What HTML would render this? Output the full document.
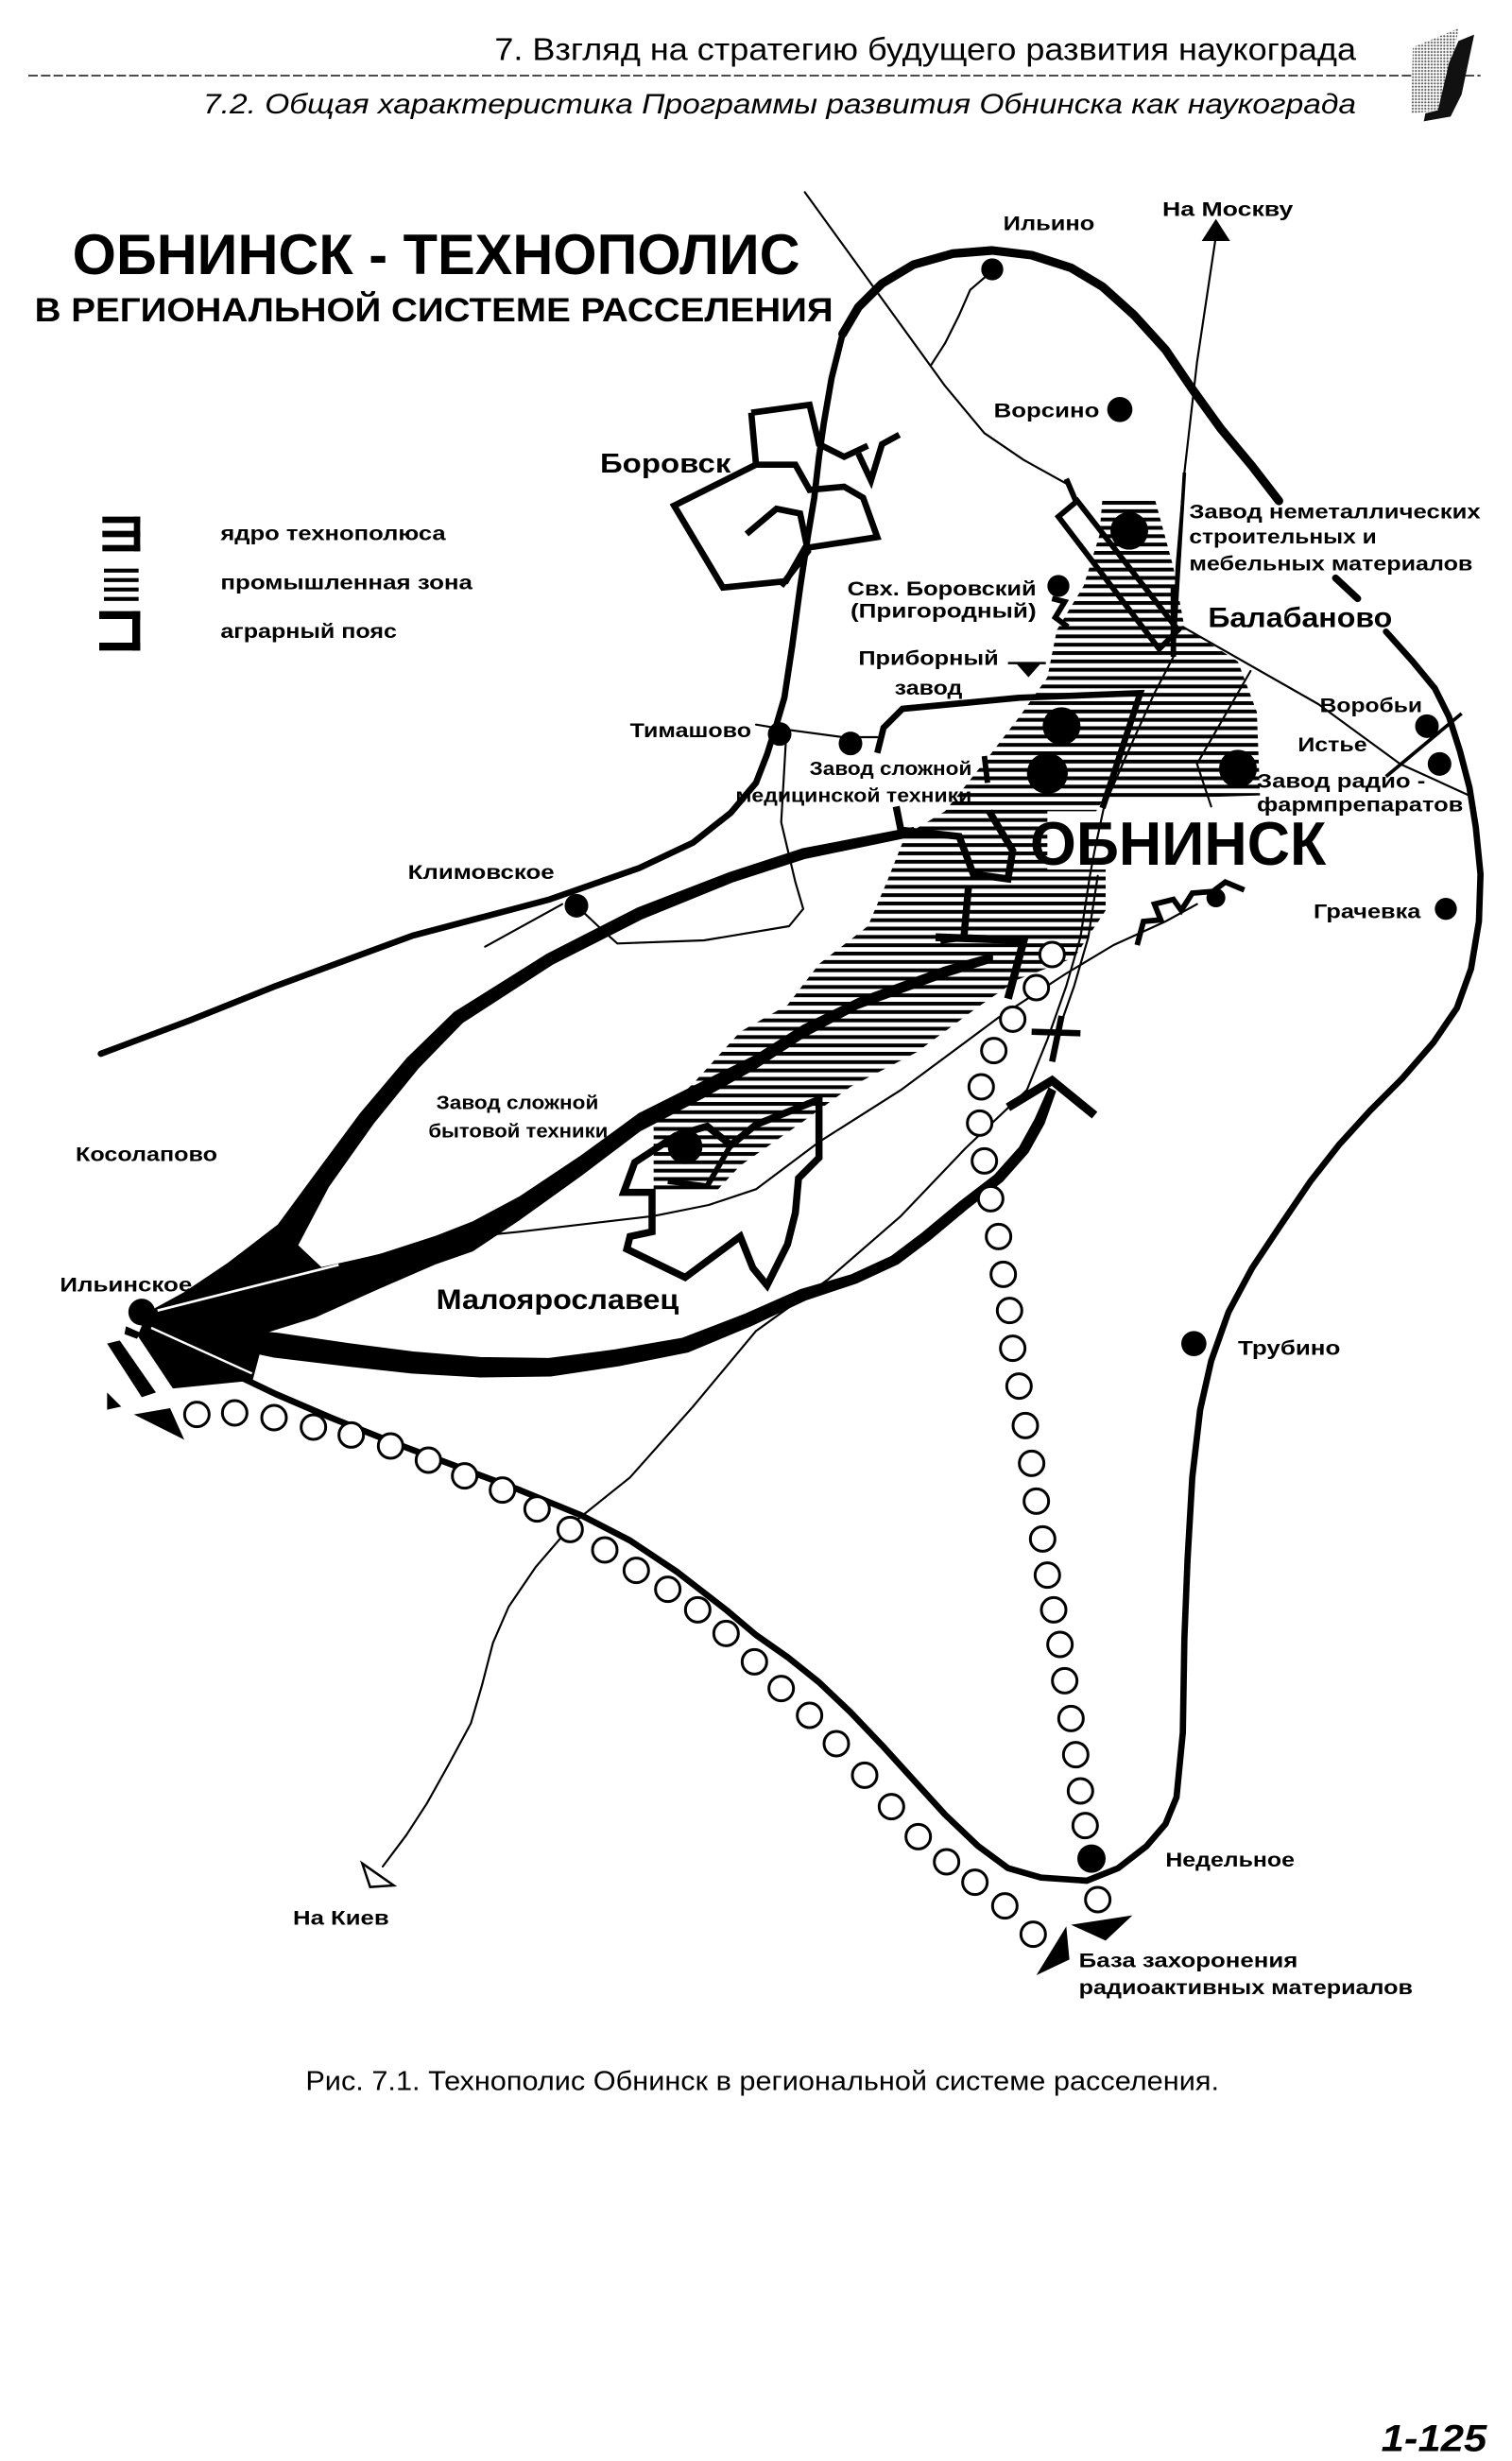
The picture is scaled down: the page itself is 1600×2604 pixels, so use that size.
<!DOCTYPE html>
<html><head><meta charset="utf-8"><style>
html,body{margin:0;padding:0;background:#fff;}
svg{display:block;}
text{font-family:"Liberation Sans","DejaVu Sans",sans-serif;}
.b{font-weight:bold;}
</style></head><body>
<svg xmlns="http://www.w3.org/2000/svg" width="1600" height="2604" viewBox="0 0 960 1562.4">
<defs>
<pattern id="hp" width="20" height="5.3" patternUnits="userSpaceOnUse"><rect x="0" y="0" width="20" height="2.4" fill="#000"/></pattern>
<pattern id="dots" width="2" height="2" patternUnits="userSpaceOnUse"><rect width="2" height="2" fill="#fff"/><circle cx="1" cy="1" r="0.65" fill="#555"/></pattern>
</defs>
<rect x="0" y="0" width="960" height="1562.4" fill="#fff"/>

<!-- HEADER -->
<text x="314" y="38" font-size="20" textLength="547" lengthAdjust="spacingAndGlyphs">7.  Взгляд на стратегию будущего развития наукограда</text>
<line x1="18" y1="48" x2="940" y2="48" stroke="#333" stroke-width="1" stroke-dasharray="6 2"/>
<text x="129" y="72" font-size="18" font-style="italic" textLength="732" lengthAdjust="spacingAndGlyphs">7.2. Общая характеристика Программы развития Обнинска как наукограда</text>
<polygon points="897,30 926,18 923,35 916,70 896,72" fill="url(#dots)"/>
<polygon points="926,26 936,22 928,60 921,74 904,77 905,72 913,70 920,40" fill="#111"/>

<!-- TITLE -->
<text class="b" x="46" y="174" font-size="36" textLength="462" lengthAdjust="spacingAndGlyphs">ОБНИНСК - ТЕХНОПОЛИС</text>
<text class="b" x="22" y="204" font-size="21" textLength="507" lengthAdjust="spacingAndGlyphs">В РЕГИОНАЛЬНОЙ СИСТЕМЕ РАССЕЛЕНИЯ</text>

<!-- LEGEND -->
<g fill="#000">
<rect x="65" y="328" width="24" height="4"/><rect x="65" y="337" width="24" height="4"/><rect x="65" y="346" width="24" height="4"/><rect x="85" y="328" width="4" height="22"/>
<rect x="66" y="361" width="22" height="2.5"/><rect x="66" y="367" width="22" height="2.5"/><rect x="66" y="373" width="22" height="2.5"/><rect x="66" y="379" width="22" height="2.5"/>
<rect x="63" y="388" width="26" height="5"/><rect x="63" y="408" width="26" height="5"/><rect x="84" y="388" width="5" height="25"/>
</g>
<g font-size="12.5">
<text class="b" x="140" y="343" textLength="143" lengthAdjust="spacingAndGlyphs">ядро технополюса</text>
<text class="b" x="140" y="374" textLength="160" lengthAdjust="spacingAndGlyphs">промышленная зона</text>
<text class="b" x="140" y="405" textLength="112" lengthAdjust="spacingAndGlyphs">аграрный пояс</text>
</g>

<!-- HATCH -->
<path d="M700,316 L733,316 L745,360 L752,398 L786,420 L798,452 L800,505 L700,508 L696,515 L665,515 L665,552 L702,552 L702,578 L682,608 L646,622 L620,640 L582,668 L540,690 L510,712 L470,740 L455,756 L415,756 L415,712 L440,688 L470,655 L500,638 L520,612 L551,588 L563,560 L575,530 L600,515 L628,480 L648,454 L665,430 L671,400 L688,372 L698,340 Z" fill="url(#hp)"/>

<!-- THIN LINES -->
<g fill="none" stroke="#000" stroke-width="1.3" stroke-linejoin="round" stroke-linecap="round">
<path d="M511,122 L600,245 L625,275 L650,292 L677,307"/>
<path d="M630,172 L616,184 L609,200 L600,218 L591,232"/>
<path d="M772,150 L760,230 L752,300 L747,360 L745,417 L733,440 L715,480 L701,512 L695,540 L692,556 L686,595 L677,626 L665,660 L652,692 L613,729 L572,772 L526,812 L480,845 L440,893 L400,938 L365,966 L340,995 L323,1020 L313,1043 L306,1070 L299,1094 L285,1120 L271,1145 L258,1165 L243,1185"/>
<path d="M697,556 L691,595 L682,626 L670,660"/>
<path d="M215,803 L240,797 L277,788 L300,785 L330,782 L415,772 L450,765 L480,755 L520,725 L572,692 L634,646 L677,618 L707,600 L740,585 L760,574"/>
<path d="M751,398 L837,447 L889,485 L935,506"/>
<path d="M794,426 L760,485 L769,512"/>
<path d="M480,460 L498,463 L535,468 L557,468"/>
<path d="M499,470 L496,522 L505,560 L510,577 L501,588 L447,597 L392,599 L383,591 L366,575"/>
<path d="M357,574 L308,601"/>
</g>
<path d="M880,493 L928,453" stroke="#000" stroke-width="2.2" fill="none"/>
<path d="M752,300 L745,417" stroke="#000" stroke-width="2.2" fill="none"/>
<!-- arrows -->
<polygon points="772,139 763,153 781,153" fill="#000"/>
<polygon points="230,1183 250,1197 235,1198" fill="#fff" stroke="#000" stroke-width="1.5"/>

<!-- OUTER LOOP -->
<g fill="none" stroke="#000" stroke-linejoin="round" stroke-linecap="round">
<path stroke-width="4" d="M64,669 L120,648 L175,626 L262,594 L349,571 L406,551 L440,535 L464,516 L480,497 L487,479 L493,460 L498,443 L503,410 L508,373 L513,340 L517,316 L520,290 L523,269 L528,240 L535,212"/>
<path stroke-width="5.5" d="M535,212 L545,195 L560,180 L580,168 L605,161 L630,159 L655,162 L680,170 L700,182 L720,200 L740,222 L757,247 L775,272 L795,296 L812,318"/>
<path stroke-width="4.5" d="M848,367 L862,380"/>
<path stroke-width="4" d="M880,401 L897,420 L911,437 L920,455 L927,477 L933,500 L937,525 L940,555 L939,585 L934,615 L925,640 L910,662 L890,685 L870,705 L850,727 L832,750 L813,778 L795,805 L780,833 L769,864 L762,895 L757,938 L754,990 L752,1040 L751,1100 L747,1141 L740,1158 L728,1172 L710,1186 L690,1194 L661,1192 L640,1186 L621,1172 L600,1152 L580,1130 L560,1108 L540,1087 L520,1068 L500,1052 L480,1038 L461,1022 L430,998 L400,978 L369,962 L330,946 L290,931 L250,916 L210,900 L175,885 L150,873 L120,858 L92,843"/>
</g>

<!-- BOROVSK -->
<g fill="none" stroke="#000" stroke-width="4" stroke-linejoin="miter">
<path d="M477,262 L514,257 L520,282 L536,290 L551,283"/>
<path d="M545,288 L553,305 L560,282 L571,276"/>
<path d="M477,262 L480,295 L428,321 L459,373 L499,369 L511,348 L557,341 L548,316 L536,309 L514,311 L505,295 L480,295"/>
<path d="M474,339 L493,323 L508,326 L513,350 L496,372"/>
</g>

<!-- BALABANOVO / OBNINSK thick structures -->
<g fill="none" stroke="#000" stroke-width="3.5" stroke-linejoin="miter">
<path d="M677,304 L683,318"/>
<path d="M672,328 L684,318 L748,400 L736,412 Z"/>
<path d="M745,372 L745,417"/>
<path d="M668,380 L676,382 L670,392 L678,398"/>
<path stroke-width="4" d="M557,478 L561,462 L573,450 L647,443 L724,440 L700,513"/>
<path d="M625,480 L627,497"/>
<path stroke-width="4.5" d="M569,512 L572,527 L609,531 L618,555 L640,558 L643,540 L628,515"/>
<path stroke-width="4.5" d="M615,562 L612,595 L597,597"/>
<path stroke-width="5" d="M594,595 L650,597 L640,634"/>
<path stroke-width="4" d="M655,655 L686,656 M674,645 L668,674"/>
<path stroke-width="5.5" d="M640,703 L668,686 L695,708"/>
<path stroke-width="3.5" d="M722,600 L726,585 L737,584 L733,574 L745,571 L750,578 L757,567 L770,566 L778,560 L790,565"/>
<path stroke-width="4.5" d="M403,738 L429,721 L449,715 L464,727 L480,714 L520,698 L520,735 L507,748 L505,770 L500,790 L487,816 L478,805 L470,785 L435,811 L398,793 L400,785 L414,782 L414,757 L396,757 Z"/>
<path stroke-width="3.5" d="M424,750 L449,753 L464,727"/>
</g>
<!-- Priborny marker -->
<path d="M640,421 L664,421" stroke="#000" stroke-width="1.5"/>
<polygon points="645,421 661,421 653,430" fill="#000"/>

<!-- FAN CURVES -->
<g fill="#000" stroke="#000" stroke-width="1" stroke-linejoin="round">
<!-- upper fan -->
<polygon points="94.5,833.2 117.3,820.7 145,802.1 176.7,777.8 199.6,746.7 229.1,706.9 258.7,671.9 288.5,642.9 347.3,606 404.5,576.8 463,554.2 509.2,539.1 579.8,525.5 580.3,530.5 510.8,544.9 465,559.8 407.5,583.2 350.7,612 293.5,649.1 265.3,678.1 236.9,713.1 208.4,753.3 188,792 150,812 120,828 95.5,834.8"/>
<polygon points="95,834 188,790 205,806"/>
<!-- middle band (wedge then curve to Obninsk) -->
<polygon points="100,833 190,808 240,797 277,785 300,776 330,760 369,734 406,707 446,687 480,670 510,651 545,634 600,614 630,605.5 630,610.5 600,620 545,640 510,658.5 480,678 446,697 406,718 369,746 330,774 300,794 277,802 240,818 200,836 168,846 160,876 110,881 88,848 92,838"/>
<!-- bottom band -->
<polygon points="95.2,840 135.8,843 176,846.6 220.7,853.1 262.4,858.5 305,862 348.5,862.6 391.1,857.1 433.3,849.8 473.3,834.4 508.6,818.8 540.2,809.6 566,797.8 585.9,782.8 609.8,762.9 631.6,746.2 647.4,728.5 657.2,710.8 666,691 670,693 662.8,713.2 652.6,731.5 636.4,749.8 614.2,767.1 590.1,787.2 570,802.3 543.8,814.4 511.4,825.2 476.7,841.6 436.7,858.2 392.9,866.9 349.6,873.4 305,874 261.6,871.5 219.3,866.9 174,861.4 134.3,853 94.8,844"/>
</g>
<path d="M100,832 L215,803" stroke="#fff" stroke-width="1.6" fill="none"/>
<path d="M96,843 L160,872" stroke="#fff" stroke-width="1.4" fill="none"/>

<!-- Ilinskoe marks -->
<g fill="#000">
<polygon points="80,842 89,846 87,850 79,847"/>
<polygon points="68,853 76,851 99,884 90,887"/>
<polygon points="68,884 77,893 68,895"/>
<polygon points="85,898 108,894 117,914"/>
<polygon points="658,1254 677,1223 679,1244"/>
<polygon points="680,1222 719,1216 702,1232"/>
</g>

<!-- CIRCLES -->
<g fill="#fff" stroke="#000" stroke-width="1.8">
<circle cx="125" cy="898" r="7.8"/><circle cx="149" cy="897" r="7.8"/><circle cx="174" cy="900" r="7.8"/><circle cx="199" cy="906" r="7.8"/><circle cx="223" cy="911" r="7.8"/><circle cx="248" cy="918" r="7.8"/><circle cx="272" cy="927" r="7.8"/><circle cx="295" cy="937" r="7.8"/><circle cx="319" cy="946" r="7.8"/><circle cx="341" cy="958" r="7.8"/><circle cx="362" cy="971" r="7.8"/><circle cx="384" cy="984" r="7.8"/><circle cx="404" cy="997" r="7.8"/><circle cx="424" cy="1009" r="7.8"/><circle cx="443" cy="1022" r="7.8"/><circle cx="461" cy="1037" r="7.8"/><circle cx="479" cy="1055" r="7.8"/><circle cx="496" cy="1072" r="7.8"/><circle cx="514" cy="1089" r="7.8"/><circle cx="531" cy="1107" r="7.8"/><circle cx="549" cy="1127" r="7.8"/><circle cx="566" cy="1147" r="7.8"/><circle cx="583" cy="1166" r="7.8"/><circle cx="601" cy="1182" r="7.8"/><circle cx="619" cy="1195" r="7.8"/><circle cx="638" cy="1210" r="7.8"/><circle cx="656" cy="1228" r="7.8"/>
<circle cx="668" cy="606" r="7.8"/><circle cx="658" cy="627" r="7.8"/><circle cx="643" cy="647" r="7.8"/><circle cx="631" cy="667" r="7.8"/><circle cx="623" cy="690" r="7.8"/><circle cx="622" cy="713" r="7.8"/><circle cx="625" cy="737" r="7.8"/><circle cx="629" cy="761" r="7.8"/><circle cx="634" cy="785" r="7.8"/><circle cx="637" cy="809" r="7.8"/><circle cx="641" cy="832" r="7.8"/><circle cx="643" cy="856" r="7.8"/><circle cx="647" cy="880" r="7.8"/><circle cx="651" cy="905" r="7.8"/><circle cx="655" cy="929" r="7.8"/><circle cx="658" cy="953" r="7.8"/><circle cx="662" cy="977" r="7.8"/><circle cx="665" cy="1000" r="7.8"/><circle cx="669" cy="1022" r="7.8"/><circle cx="673" cy="1044" r="7.8"/><circle cx="676" cy="1067" r="7.8"/><circle cx="680" cy="1091" r="7.8"/><circle cx="683" cy="1114" r="7.8"/><circle cx="686" cy="1137" r="7.8"/><circle cx="689" cy="1159" r="7.8"/><circle cx="697" cy="1206" r="7.8"/>
</g>

<!-- DOTS -->
<g fill="#000">
<circle cx="630" cy="171" r="7"/><circle cx="711" cy="260" r="8"/><circle cx="717" cy="337" r="12"/><circle cx="672" cy="372" r="7"/>
<circle cx="674" cy="461" r="12"/><circle cx="665" cy="491" r="13"/><circle cx="786" cy="488" r="12"/>
<circle cx="495" cy="466" r="7.5"/><circle cx="540" cy="472" r="7.5"/>
<circle cx="906" cy="461" r="7.5"/><circle cx="914" cy="485" r="7.5"/>
<circle cx="366" cy="575" r="7.5"/><circle cx="918" cy="577" r="7"/><circle cx="772" cy="570" r="6"/>
<circle cx="90" cy="833" r="8.5"/><circle cx="435" cy="728" r="11"/><circle cx="758" cy="853" r="8"/><circle cx="693" cy="1180" r="9"/>
</g>

<!-- LABELS -->
<g font-weight="bold" font-size="13" fill="#000">
<text x="637" y="146" textLength="58" lengthAdjust="spacingAndGlyphs">Ильино</text>
<text x="738" y="137" textLength="83" lengthAdjust="spacingAndGlyphs">На Москву</text>
<text x="631" y="265" textLength="67" lengthAdjust="spacingAndGlyphs">Ворсино</text>
<text x="381" y="300" font-size="17" textLength="83" lengthAdjust="spacingAndGlyphs">Боровск</text>
<text x="755" y="329" textLength="185" lengthAdjust="spacingAndGlyphs">Завод неметаллических</text>
<text x="755" y="345" textLength="119" lengthAdjust="spacingAndGlyphs">строительных и</text>
<text x="755" y="362" textLength="180" lengthAdjust="spacingAndGlyphs">мебельных материалов</text>
<text x="538" y="378" textLength="120" lengthAdjust="spacingAndGlyphs">Свх. Боровский</text>
<text x="540" y="392" textLength="118" lengthAdjust="spacingAndGlyphs">(Пригородный)</text>
<text x="767" y="398" font-size="18" textLength="117" lengthAdjust="spacingAndGlyphs">Балабаново</text>
<text x="545" y="422" textLength="89" lengthAdjust="spacingAndGlyphs">Приборный</text>
<text x="568" y="441" textLength="43" lengthAdjust="spacingAndGlyphs">завод</text>
<text x="400" y="468" textLength="77" lengthAdjust="spacingAndGlyphs">Тимашово</text>
<text x="838" y="452" textLength="65" lengthAdjust="spacingAndGlyphs">Воробьи</text>
<text x="824" y="477" textLength="44" lengthAdjust="spacingAndGlyphs">Истье</text>
<text x="514" y="492" font-size="12" textLength="103" lengthAdjust="spacingAndGlyphs">Завод сложной</text>
<text x="467" y="509" font-size="12" textLength="150" lengthAdjust="spacingAndGlyphs">медицинской техники</text>
<text x="798" y="500" textLength="107" lengthAdjust="spacingAndGlyphs">Завод радио -</text>
<text x="798" y="515" textLength="131" lengthAdjust="spacingAndGlyphs">фармпрепаратов</text>
<text x="654" y="549" font-size="39" textLength="188" lengthAdjust="spacingAndGlyphs">ОБНИНСК</text>
<text x="259" y="558" textLength="93" lengthAdjust="spacingAndGlyphs">Климовское</text>
<text x="834" y="583" textLength="68" lengthAdjust="spacingAndGlyphs">Грачевка</text>
<text x="277" y="704" font-size="12" textLength="103" lengthAdjust="spacingAndGlyphs">Завод сложной</text>
<text x="272" y="722" font-size="12" textLength="114" lengthAdjust="spacingAndGlyphs">бытовой техники</text>
<text x="48" y="737" textLength="90" lengthAdjust="spacingAndGlyphs">Косолапово</text>
<text x="38" y="820" textLength="84" lengthAdjust="spacingAndGlyphs">Ильинское</text>
<text x="277" y="831" font-size="18" textLength="154" lengthAdjust="spacingAndGlyphs">Малоярославец</text>
<text x="786" y="860" textLength="65" lengthAdjust="spacingAndGlyphs">Трубино</text>
<text x="740" y="1185" textLength="82" lengthAdjust="spacingAndGlyphs">Недельное</text>
<text x="186" y="1222" textLength="61" lengthAdjust="spacingAndGlyphs">На Киев</text>
<text x="685" y="1249" textLength="139" lengthAdjust="spacingAndGlyphs">База захоронения</text>
<text x="685" y="1266" textLength="212" lengthAdjust="spacingAndGlyphs">радиоактивных материалов</text>
</g>

<!-- CAPTION & PAGE NUMBER -->
<text x="194" y="1327" font-size="17" textLength="580" lengthAdjust="spacingAndGlyphs">Рис. 7.1. Технополис Обнинск в региональной системе расселения.</text>
<text x="877" y="1556" font-size="24" font-weight="bold" font-style="italic" textLength="67" lengthAdjust="spacingAndGlyphs">1-125</text>
</svg>
</body></html>
